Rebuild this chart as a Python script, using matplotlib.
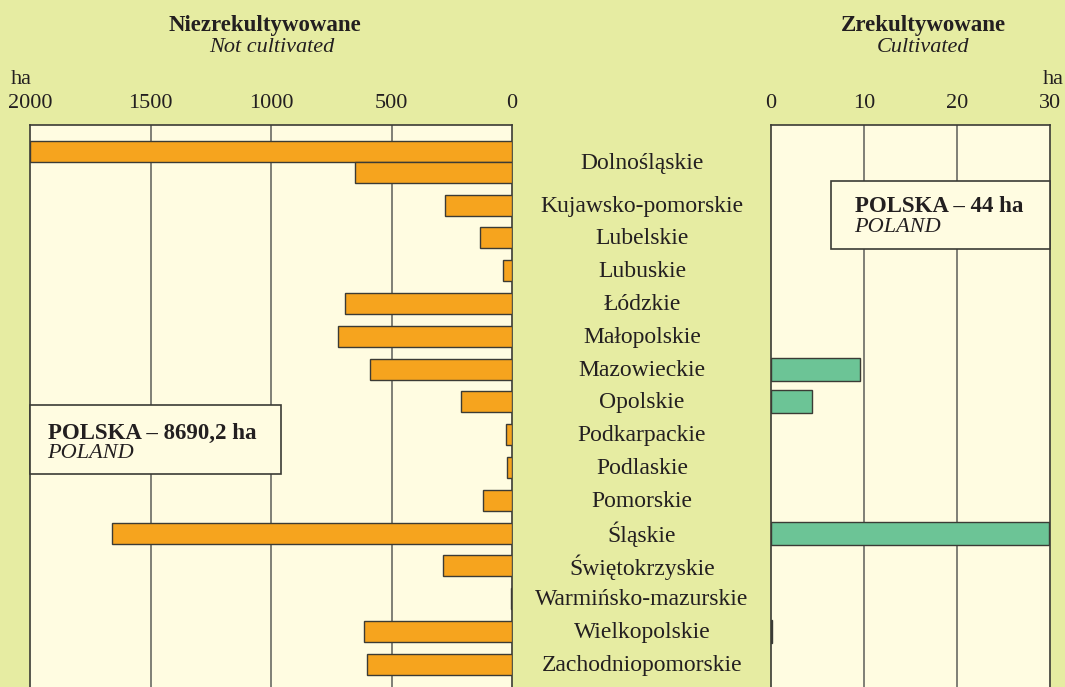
import numpy as np
import matplotlib
matplotlib.use("Agg")
import matplotlib.pyplot as plt
import matplotlib.transforms as mtransforms

plt.rcParams['font.family'] = ['Liberation Serif', 'DejaVu Serif']

regions = ['Dolnośląskie', 'Kujawsko-pomorskie', 'Lubelskie', 'Lubuskie', 'Łódzkie',
           'Małopolskie', 'Mazowieckie', 'Opolskie', 'Podkarpackie', 'Podlaskie',
           'Pomorskie', 'Śląskie', 'Świętokrzyskie', 'Warmińsko-mazurskie',
           'Wielkopolskie', 'Zachodniopomorskie']
not_cultivated = [2650, 278, 133, 37, 693, 722, 589, 212, 25, 21, 120, 1660, 286, 3, 614, 602]
cultivated = [0, 0, 0, 0, 0, 0, 9.6, 4.4, 0, 0, 0, 29.9, 0, 0, 0.1, 0]
left_ticks = [2000, 1500, 1000, 500, 0]
right_ticks = [0, 10, 20, 30]
total_left = 'POLSKA – 8690,2 ha'
total_right = 'POLSKA – 44 ha'

bg = '#e6eca2'
panel = '#fffce1'
orange = '#f6a41e'
green = '#6cc496'
txt = '#231f20'
edge = '#3b3b35'

W, H = 1065, 687
fig = plt.figure(figsize=(W / 100, H / 100), dpi=100, facecolor=bg)

def fx(px):
    return px / W

def fy(py):
    return 1 - py / H

# row positions (Dolnośląskie sits a bit higher than the rest)
pos = np.arange(len(regions), dtype=float)
pos[1:] += 0.31
ylim = (16.0, -1.13)
bh = 0.64

axL = fig.add_axes([fx(30), fy(687), fx(512 - 30), (687 - 125) / H])
axR = fig.add_axes([fx(771), fy(687), fx(1050 - 771), (687 - 125) / H])

for ax in (axL, axR):
    ax.set_facecolor(panel)
    ax.set_ylim(*ylim)
    ax.set_yticks([])
    ax.xaxis.tick_top()
    ax.tick_params(axis='x', length=0, pad=9, labelsize=16, labelcolor=txt)
    for s in ax.spines.values():
        s.set_color(edge)
        s.set_linewidth(1.2)
    ax.spines['bottom'].set_visible(False)

axL.set_xlim(2000, 0)
axL.set_xticks(left_ticks)
axL.set_xticklabels([str(t) for t in left_ticks])
for t in left_ticks[1:-1]:
    axL.axvline(t, color='#75756d', lw=1.3, zorder=1)

axR.set_xlim(0, 30)
axR.set_xticks(right_ticks)
axR.set_xticklabels([str(t) for t in right_ticks])
for t in right_ticks[1:-1]:
    axR.axvline(t, color='#75756d', lw=1.3, zorder=1)

# left bars; values over 2000 wrap onto a second bar
for i, v in enumerate(not_cultivated):
    if v > 2000:
        axL.barh(pos[i] - 0.33, 2000, height=bh, color=orange, edgecolor=edge, lw=1, zorder=3)
        axL.barh(pos[i] + 0.33, v - 2000, height=bh, color=orange, edgecolor=edge, lw=1, zorder=3)
    elif v > 0:
        axL.barh(pos[i], v, height=bh, color=orange, edgecolor=edge, lw=1, zorder=3)

for i, v in enumerate(cultivated):
    if v > 0:
        axR.barh(pos[i], v, height=0.7, color=green, edgecolor=edge, lw=1, zorder=3)

# region names in the middle
tr = mtransforms.blended_transform_factory(fig.transFigure, axL.transData)
for i, name in enumerate(regions):
    fig.text(fx(642), pos[i] + 0.03, name, transform=tr, ha='center', va='center',
             fontsize=17, color=txt)

# headers
fig.text(fx(265), fy(25), 'Niezrekultywowane', ha='center', va='center',
         fontsize=16.5, fontweight='bold', color=txt)
fig.text(fx(272), fy(48), 'Not cultivated', ha='center', va='center',
         fontsize=16, style='italic', color=txt)
fig.text(fx(923), fy(25), 'Zrekultywowane', ha='center', va='center',
         fontsize=16.5, fontweight='bold', color=txt)
fig.text(fx(923), fy(48), 'Cultivated', ha='center', va='center',
         fontsize=16, style='italic', color=txt)
fig.text(fx(11), fy(80), 'ha', ha='left', va='center', fontsize=16, color=txt)
fig.text(fx(1064), fy(80), 'ha', ha='right', va='center', fontsize=16, color=txt)

# total boxes
boxL = plt.Rectangle((fx(30), fy(474)), fx(281 - 30), (474 - 405) / H,
                     transform=fig.transFigure, facecolor=panel, edgecolor=edge,
                     lw=1.2, zorder=5)
fig.add_artist(boxL)
fig.text(fx(48), fy(433), total_left, ha='left', va='center', fontsize=16.5,
         fontweight='bold', color=txt, zorder=6)
fig.text(fx(47), fy(453), 'POLAND', ha='left', va='center', fontsize=16,
         style='italic', color=txt, zorder=6)

boxR = plt.Rectangle((fx(831), fy(249)), fx(1050 - 831), (249 - 181) / H,
                     transform=fig.transFigure, facecolor=panel, edgecolor=edge,
                     lw=1.2, zorder=5)
fig.add_artist(boxR)
fig.text(fx(855), fy(207), total_right, ha='left', va='center', fontsize=16.5,
         fontweight='bold', color=txt, zorder=6)
fig.text(fx(854), fy(227), 'POLAND', ha='left', va='center', fontsize=16,
         style='italic', color=txt, zorder=6)

fig.savefig('out.png', dpi=100, facecolor=bg)
